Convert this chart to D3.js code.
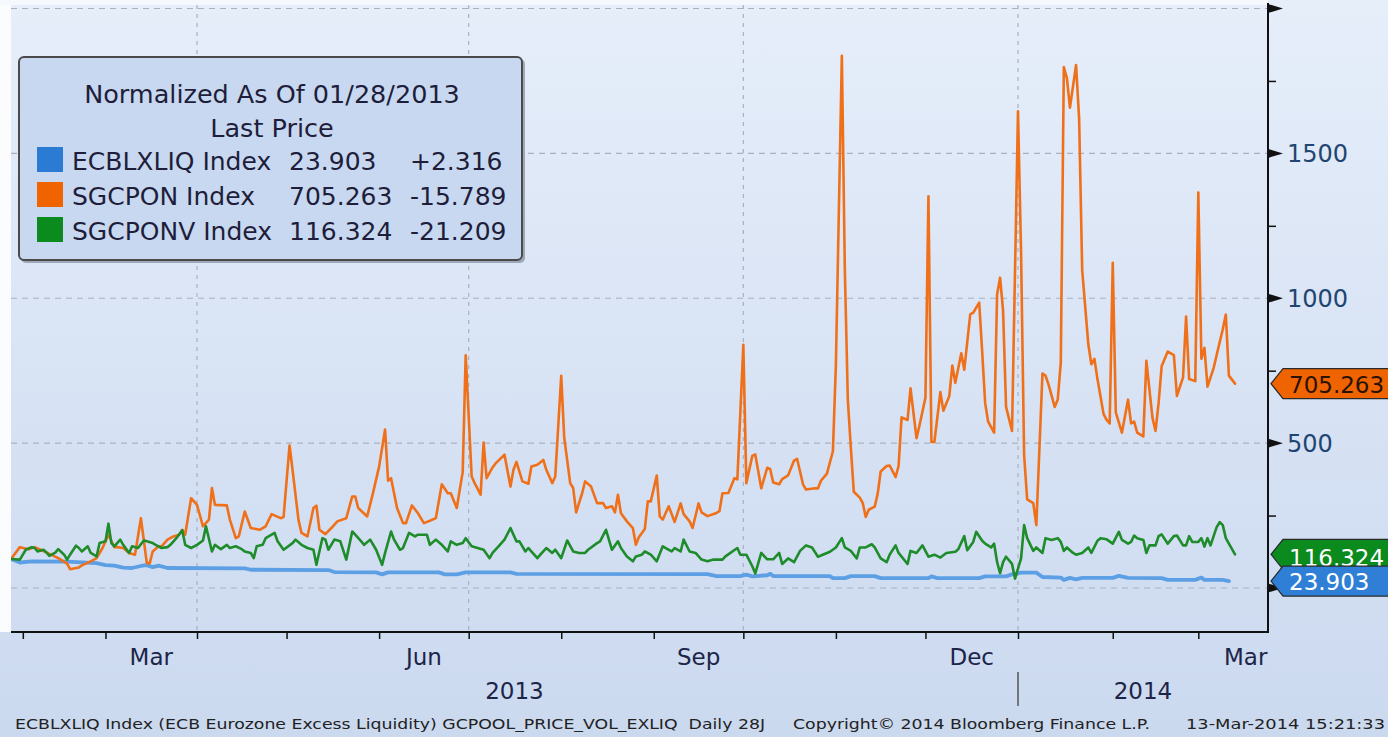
<!DOCTYPE html>
<html><head><meta charset="utf-8">
<script src="https://cdn.jsdelivr.net/npm/d3@7"></script>
<style>body{margin:0;background:#fff}svg{display:block}</style>
</head><body>
<svg id="chart" width="1388" height="737"></svg>
<script>
// ---------------- DATA ----------------
// day offsets are days since the normalisation date 28-Jan-2013
const startDate = new Date(2013, 0, 28);

const seriesNames = ["ECBLXLIQ Index", "SGCPON Index", "SGCPONV Index"];
const lastPrices = ["23.903", "705.263", "116.324"];
const netChanges = ["+2.316", "-15.789", "-21.209"];
const lastValues = [23.903, 705.263, 116.324];

const blueDays = [0,3,7,19,29,32,35,38,41,44,46,48,50,53,79,81,107,109,123,125,127,144,146,150,153,168,170,234,237,245,247,249,254,255,256,275,276,280,282,290,292,308,309,311,325,327,334,336,339,344,346,352,353,355,357,359,369,371,374,385,387,396,398,399,405,407];
const blueValues = [100,88,92,91,86,79,77,70,69,76,79,72,77,69,68,63,62,55,54,47,54,54,47,47,54,54,49,48,41,41,46,40,44,49,41,41,34,34,41,41,34,34,40,34,34,40,40,47,53,53,38,36,28,35,30,35,35,42,35,34,28,28,36,28,28,23.903];

const orangeDays = [0,3,6,8,10,13,16,19,20,23,24,27,29,31,33,35,36,38,40,42,44,46,47,48,50,51,53,55,57,58,59,61,63,65,67,68,69,73,74,76,77,79,81,84,86,88,91,92,94,95,97,98,100,102,103,104,106,108,110,113,115,116,117,120,122,124,126,127,128,130,132,133,135,137,139,141,143,145,147,148,150,152,153,155,156,158,159,160,162,163,166,168,169,170,172,174,175,177,179,180,182,183,185,186,188,189,190,192,193,195,197,199,200,202,203,204,205,207,209,210,211,213,214,215,217,218,219,221,223,225,226,228,229,231,232,234,237,238,239,241,243,244,246,247,249,250,252,254,255,256,258,259,261,263,264,266,267,270,271,272,274,276,277,279,280,281,282,283,285,286,287,288,290,291,292,294,295,297,298,299,301,302,304,305,307,308,309,310,312,313,315,316,317,319,320,322,323,325,326,327,328,330,331,332,333,334,336,338,339,340,341,343,344,346,347,348,350,351,352,353,354,355,357,358,359,361,362,363,364,366,367,368,369,370,372,374,375,376,377,379,380,382,383,384,385,387,389,390,392,393,394,396,397,398,399,400,402,403,405,406,407,409];
const orangeValues = [100,141,134,141,132,118,103,84,65,71,78,92,103,138,184,141,141,138,121,115,241,86,86,126,144,144,167,178,184,201,184,310,287,213,236,345,287,285,236,172,178,264,207,201,213,255,241,245,492,408,235,190,178,276,284,201,186,207,230,241,316,316,276,247,330,419,547,370,379,276,224,224,285,258,224,232,241,358,327,327,276,400,803,385,362,322,502,379,416,430,460,350,408,435,368,360,419,425,442,408,362,385,732,520,362,345,261,327,368,350,293,293,276,282,261,322,258,230,207,149,175,204,299,299,388,247,236,282,228,292,255,230,207,292,261,248,259,265,327,328,379,375,839,362,456,461,344,415,410,364,358,376,389,440,446,357,340,344,344,370,395,472,770,1837,1097,650,485,332,312,293,245,270,281,325,402,421,423,383,421,589,580,689,517,561,657,1352,504,504,676,612,663,768,708,810,753,944,950,985,816,638,574,536,1014,1071,957,625,542,1645,1161,459,306,293,217,740,733,702,625,650,778,1798,1760,1658,1805,1620,1097,842,772,791,721,600,580,568,1122,606,536,650,568,574,536,523,784,587,542,638,765,816,804,663,727,937,721,714,1365,791,829,695,759,804,893,944,733,705.263];

const greenDays = [0,3,5,7,8,9,11,12,13,15,16,18,19,20,22,23,24,26,27,29,30,32,33,34,35,37,38,40,41,43,45,46,48,49,51,53,54,56,58,59,61,63,65,66,68,69,71,73,74,76,78,79,81,82,83,85,86,89,90,92,95,96,98,100,102,103,105,106,107,109,111,113,115,116,118,119,121,123,125,126,128,129,131,132,134,136,137,140,141,143,145,147,148,150,152,153,155,157,159,161,162,164,166,168,170,171,173,174,177,178,180,182,183,185,187,189,191,193,194,197,198,200,202,204,205,207,209,210,212,213,215,217,219,220,222,223,225,226,228,230,232,234,236,239,240,244,245,247,249,250,252,254,256,258,259,261,263,265,267,269,271,274,275,277,279,280,282,284,285,287,289,290,292,294,295,297,298,301,302,304,306,308,310,312,314,317,318,320,321,323,324,326,327,329,330,331,332,333,334,336,337,339,340,341,343,344,346,347,349,351,352,353,354,356,357,359,361,362,364,365,367,369,371,372,374,375,376,377,379,380,381,383,384,385,387,389,390,392,393,394,395,397,398,399,400,401,403,404,405,406,407,409];
const greenValues = [100,98,132,141,138,126,132,123,111,122,134,115,98,115,146,138,126,144,121,109,155,161,222,155,144,167,149,121,144,138,164,161,155,149,138,141,149,172,199,149,138,149,164,213,126,149,134,149,138,144,134,126,121,103,144,149,172,190,161,132,155,167,149,138,132,80,172,167,132,167,161,98,195,184,161,149,167,132,80,121,195,167,132,138,190,178,184,184,149,167,149,126,161,149,155,172,144,138,132,103,121,144,167,207,161,161,126,138,103,115,138,121,132,103,164,126,121,121,132,155,161,201,132,161,138,109,92,109,115,126,115,92,144,138,126,138,126,167,126,121,98,92,98,98,109,138,115,115,75,50,121,99,99,121,83,102,89,128,147,140,108,121,125,140,172,140,128,102,140,140,151,140,102,89,115,147,121,83,128,121,147,108,115,105,121,125,134,179,130,159,194,163,153,140,153,89,51,89,108,83,32,102,217,172,128,140,121,172,166,172,159,128,140,121,115,121,140,121,163,172,168,153,194,166,153,159,181,172,166,121,147,147,179,185,153,179,181,147,147,179,159,159,172,143,172,147,210,227,217,172,153,116.324];

const yTickValues = [0, 500, 1000, 1500, 2000];
const yTickLabels = ["", "500", "1000", "1500", ""];
const yMinorTicks = [250, 750, 1250, 1750];
const quarterLabels = ["Mar", "Jun", "Sep", "Dec", "Mar"];
const yearLabels = ["2013", "2014"];
const legendTitle = ["Normalized As Of 01/28/2013", "Last Price"];
const footerTexts = ["ECBLXLIQ Index (ECB Eurozone Excess Liquidity) GCPOOL_PRICE_VOL_EXLIQ  Daily 28J",
                     "Copyright\u00A9 2014 Bloomberg Finance L.P.",
                     "13-Mar-2014 15:21:33"];

// ---------------- STYLE / LAYOUT ----------------
const W = 1388, H = 737;
const plot = {left: 11, right: 1268, top: 5, bottom: 632};
const colors = ["#5d9fe4", "#f0701a", "#1e8c2a"];
const swatchColors = ["#2b7bd4", "#ef6400", "#0b8a1e"];
const FONT = "DejaVu Sans, Verdana, sans-serif";

const svg = d3.select("#chart");
const defs = svg.append("defs");
const grad = defs.append("linearGradient").attr("id", "bg").attr("x1", 0).attr("y1", 0).attr("x2", 0).attr("y2", 1);
grad.append("stop").attr("offset", "0%").attr("stop-color", "#e6eefa");
grad.append("stop").attr("offset", "100%").attr("stop-color", "#cbd9ef");
defs.append("clipPath").attr("id", "clip").append("rect")
  .attr("x", plot.left).attr("y", plot.top).attr("width", plot.right - plot.left).attr("height", plot.bottom - plot.top);

svg.append("rect").attr("width", W).attr("height", H).attr("fill", "url(#bg)");
svg.append("rect").attr("x", 0).attr("y", 0).attr("width", plot.left).attr("height", plot.bottom).attr("fill", "#fbfcfe");
svg.append("rect").attr("x", 0).attr("y", 0).attr("width", plot.right).attr("height", plot.top).attr("fill", "#f5f8fd");

// scales
const x = d3.scaleTime()
  .domain([startDate, new Date(2013, 3, 1), new Date(2014, 0, 1), new Date(2014, 2, 13)])
  .range([11, 197, 1018, 1235]);
const y = d3.scaleLinear().domain([0, 2000]).range([588, 8.5]);
const dayToDate = d => d3.timeDay.offset(startDate, d);

// grid
const gridG = svg.append("g").attr("stroke", "#a9b1be").attr("stroke-width", 1.2).attr("stroke-dasharray", "6,5");
gridG.selectAll("line.h").data(yTickValues).join("line")
  .attr("x1", plot.left).attr("x2", plot.right).attr("y1", d => y(d)).attr("y2", d => y(d));
const quarterStarts = [new Date(2013, 3, 1), new Date(2013, 6, 1), new Date(2013, 9, 1), new Date(2014, 0, 1)];
gridG.selectAll("line.v").data(quarterStarts).join("line").attr("stroke-dasharray", "4,5")
  .attr("x1", d => x(d)).attr("x2", d => x(d)).attr("y1", plot.top).attr("y2", plot.bottom);

// lines
const series = [
  {days: blueDays, values: blueValues, color: colors[0], width: 3.8},
  {days: orangeDays, values: orangeValues, color: colors[1], width: 2.6},
  {days: greenDays, values: greenValues, color: colors[2], width: 2.6}
];
const lineGen = d3.line().x(p => x(dayToDate(p[0]))).y(p => y(p[1]));
const linesG = svg.append("g").attr("clip-path", "url(#clip)");
series.forEach(s => {
  const pts = s.days.map((d, i) => [d, s.values[i]]);
  linesG.append("path").datum(pts).attr("d", lineGen)
    .attr("fill", "none").attr("stroke", s.color).attr("stroke-width", s.width)
    .attr("stroke-linejoin", "round").attr("stroke-linecap", "round");
});

// bottom axis
const months = d3.timeMonth.range(new Date(2013, 1, 1), new Date(2014, 2, 2));
const xAxis = d3.axisBottom(x).tickValues(months).tickFormat("").tickSize(7).tickSizeOuter(0);
const xg = svg.append("g").attr("transform", `translate(0,${plot.bottom})`).call(xAxis);
xg.select(".domain").attr("d", `M${plot.left},0H${plot.right}`).attr("stroke", "#111").attr("stroke-width", 2);
xg.selectAll(".tick line").attr("stroke", "#111").attr("stroke-width", 1.5);

const quarterMonths = [new Date(2013, 2, 1), new Date(2013, 5, 1), new Date(2013, 8, 1), new Date(2013, 11, 1), new Date(2014, 2, 1)];
svg.append("g").selectAll("text").data(quarterMonths).join("text")
  .attr("x", d => (x(d) + x(d3.timeMonth.offset(d, 1))) / 2).attr("y", 665)
  .attr("text-anchor", "middle").attr("font-family", FONT).attr("font-size", 23).attr("fill", "#1c2548")
  .text((d, i) => quarterLabels[i]);

const yearCenters = [(x(startDate) + x(new Date(2014, 0, 1))) / 2, (x(new Date(2014, 0, 1)) + plot.right) / 2];
svg.append("g").selectAll("text").data(yearLabels).join("text")
  .attr("x", (d, i) => yearCenters[i]).attr("y", 699)
  .attr("text-anchor", "middle").attr("font-family", FONT).attr("font-size", 23).attr("fill", "#1c2548")
  .text(d => d);
svg.append("line").attr("x1", x(new Date(2014, 0, 1))).attr("x2", x(new Date(2014, 0, 1)))
  .attr("y1", 672).attr("y2", 706).attr("stroke", "#555").attr("stroke-width", 1.5);

// right axis
const yAxis = d3.axisRight(y).tickValues(yMinorTicks).tickFormat("").tickSize(8).tickSizeOuter(0);
const yg = svg.append("g").attr("transform", `translate(${plot.right},0)`).call(yAxis);
yg.select(".domain").attr("d", `M0,${plot.top - 2}V${plot.bottom + 1}`).attr("stroke", "#111").attr("stroke-width", 2);
yg.selectAll(".tick line").attr("stroke", "#111").attr("stroke-width", 1.5);
svg.append("g").selectAll("path").data(yTickValues).join("path")
  .attr("d", d => `M${plot.right},${y(d) - 4.5}L${plot.right + 15},${y(d)}L${plot.right},${y(d) + 4.5}Z`)
  .attr("fill", "#111");
svg.append("g").selectAll("text").data(yTickValues).join("text")
  .attr("x", plot.right + 19).attr("y", d => y(d) + 9)
  .attr("font-family", FONT).attr("font-size", 24).attr("fill", "#1f4672")
  .text((d, i) => yTickLabels[i]);

// last value tags
function tag(value, label, fill, textColor, dy) {
  const yy = y(value);
  const g = svg.append("g");
  g.append("path")
    .attr("d", `M${plot.right + 3},${yy}L${plot.right + 15},${yy - 15}L${W + 2},${yy - 15}L${W + 2},${yy + 15}L${plot.right + 15},${yy + 15}Z`)
    .attr("fill", fill).attr("stroke", "#2a2a2a").attr("stroke-width", 1.2);
  g.append("text").attr("x", plot.right + 21).attr("y", yy + dy)
    .attr("font-family", FONT).attr("font-size", 23).attr("fill", textColor).text(label);
}
tag(lastValues[1], lastPrices[1], "#ef6400", "#2a1200", 9);
tag(lastValues[2], lastPrices[2], "#0b8a1e", "#ffffff", 12);
tag(lastValues[0], lastPrices[0], "#2f7fd6", "#ffffff", 9);

// legend
const lg = svg.append("g");
lg.append("rect").attr("x", 21).attr("y", 59).attr("width", 504).attr("height", 204).attr("rx", 5)
  .attr("fill", "rgba(40,50,70,0.35)");
lg.append("rect").attr("x", 19).attr("y", 57).attr("width", 503).attr("height", 203).attr("rx", 5)
  .attr("fill", "#c8d8f0").attr("stroke", "#4a4a4a").attr("stroke-width", 2);
lg.selectAll("text.title").data(legendTitle).join("text")
  .attr("x", 272).attr("y", (d, i) => 103 + i * 34).attr("text-anchor", "middle")
  .attr("font-family", FONT).attr("font-size", 25.5).attr("fill", "#1e1e3a").text(d => d);
const order = [0, 1, 2];
order.forEach((k, i) => {
  const by = 170 + i * 35;
  lg.append("rect").attr("x", 37).attr("y", by - 23).attr("width", 26).attr("height", 25).attr("fill", swatchColors[k]);
  lg.append("text").attr("x", 72).attr("y", by).attr("font-family", FONT).attr("font-size", 25).attr("fill", "#1e1e3a").text(seriesNames[k]);
  lg.append("text").attr("x", 289).attr("y", by).attr("font-family", FONT).attr("font-size", 25).attr("fill", "#1e1e3a").text(lastPrices[k]);
  lg.append("text").attr("x", 410).attr("y", by).attr("font-family", FONT).attr("font-size", 25).attr("fill", "#1e1e3a").text(netChanges[k]);
});

// footer
const footerX = [15, 793, 1186];
const footerW = [750, 357, 199];
svg.append("g").selectAll("text").data(footerTexts).join("text")
  .attr("x", (d, i) => footerX[i]).attr("y", 729)
  .attr("textLength", (d, i) => footerW[i]).attr("lengthAdjust", "spacingAndGlyphs")
  .attr("font-family", FONT).attr("font-size", 14).attr("fill", "#222")
  .style("white-space", "pre").text(d => d);
</script>
</body></html>
